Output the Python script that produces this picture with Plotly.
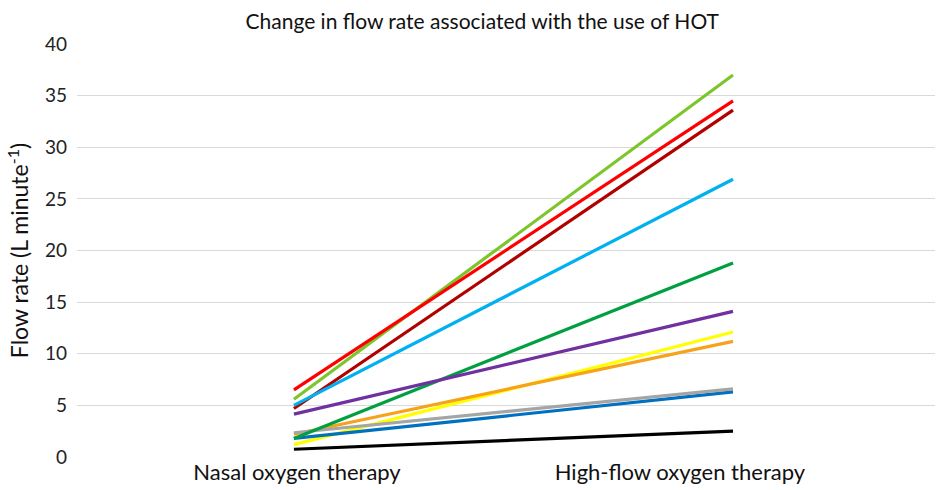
import plotly.graph_objects as go

categories = ["Nasal oxygen therapy", "High-flow oxygen therapy"]
series_names = ["S1", "S2", "S3", "S4", "S5", "S6", "S7", "S8", "S9", "S10", "S11"]
nasal = [0.75, 1.2, 1.8, 2.2, 2.35, 1.8, 4.15, 4.7, 5.0, 5.6, 6.5]
highflow = [2.5, 12.1, 6.3, 11.2, 6.6, 18.8, 14.1, 33.6, 26.9, 37.0, 34.5]
colors = ["#000000", "#ffff00", "#0070c0", "#f7a21b", "#a5a5a5", "#00a040",
          "#7030a0", "#b00000", "#00b0f0", "#7cc52a", "#ff0000"]
yticks = [0, 5, 10, 15, 20, 25, 30, 35, 40]

x_pos = [1, 2]
tick_pos = [1.007, 1.879]

fig = go.Figure()
for name, a, b, c in zip(series_names, nasal, highflow, colors):
    fig.add_trace(go.Scatter(x=x_pos, y=[a, b], mode="lines", name=name,
                             line=dict(color=c, width=3.2), showlegend=False))

font = "Lato, 'Open Sans', sans-serif"
fig.update_layout(
    width=940, height=490,
    margin=dict(l=77, r=5, t=44, b=32.5),
    paper_bgcolor="white", plot_bgcolor="white",
    font=dict(family=font, color="#222222"),
    title=dict(text="Change in flow rate associated with the use of HOT",
               x=0.513, xanchor="center", y=1 - 22 / 490, yanchor="middle",
               yref="container", font=dict(size=21, color="#111111")),
    xaxis=dict(range=[0.506, 2.46], tickvals=tick_pos, ticktext=categories,
               showgrid=False, zeroline=False, showline=False, ticks="",
               automargin=False,
               tickfont=dict(size=22, color="#111111")),
    yaxis=dict(range=[0, 40], tickvals=yticks, showgrid=True, gridcolor="#d9d9d9",
               gridwidth=1, zeroline=False, showline=False, ticks="",
               automargin=False,
               tickfont=dict(size=19, color="#222222"), ticklabelstandoff=9,
               title=dict(text="Flow rate (L minute<sup>-1</sup>)",
                          font=dict(size=23, color="#111111"), standoff=9)),
)
fig.write_html("out.html", config={"displayModeBar": False},
               post_script="document.body.style.margin='0';document.body.style.overflow='hidden';")
